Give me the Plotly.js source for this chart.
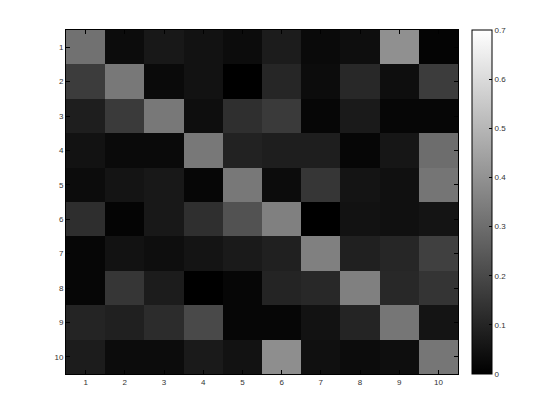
<!DOCTYPE html>
<html>
<head>
<meta charset="utf-8">
<script src="https://cdn.plot.ly/plotly-3.0.1.min.js"></script>
<style>
  body { margin: 0; background: #fff; }
  #chart { width: 560px; height: 420px; }
</style>
</head>
<body>
<div id="chart"></div>
<script>
// row / column labels
var rows = [1, 2, 3, 4, 5, 6, 7, 8, 9, 10];
var cols = [1, 2, 3, 4, 5, 6, 7, 8, 9, 10];

// cell values, one array per row
var row1 = [0.31, 0.033, 0.066, 0.05, 0.033, 0.077, 0.027, 0.038, 0.395, 0.011];
var row2 = [0.165, 0.33, 0.027, 0.05, 0.0, 0.104, 0.033, 0.11, 0.038, 0.165];
var row3 = [0.082, 0.16, 0.33, 0.038, 0.13, 0.16, 0.016, 0.07, 0.016, 0.016];
var row4 = [0.05, 0.027, 0.027, 0.33, 0.093, 0.082, 0.082, 0.016, 0.06, 0.30];
var row5 = [0.033, 0.055, 0.066, 0.016, 0.33, 0.033, 0.148, 0.055, 0.044, 0.32];
var row6 = [0.126, 0.011, 0.066, 0.13, 0.225, 0.35, 0.0, 0.05, 0.044, 0.055];
var row7 = [0.016, 0.05, 0.038, 0.055, 0.07, 0.088, 0.35, 0.088, 0.104, 0.176];
var row8 = [0.016, 0.148, 0.077, 0.0, 0.016, 0.1, 0.11, 0.35, 0.11, 0.143];
var row9 = [0.1, 0.088, 0.12, 0.2, 0.016, 0.016, 0.05, 0.1, 0.325, 0.055];
var row10 = [0.077, 0.033, 0.033, 0.07, 0.05, 0.39, 0.044, 0.033, 0.038, 0.325];

var zMin = 0;
var zMax = 0.7;
var cbTicks = [0, 0.1, 0.2, 0.3, 0.4, 0.5, 0.6, 0.7];

var z = [row1, row2, row3, row4, row5, row6, row7, row8, row9, row10];

var tickFont = { family: "Liberation Sans, Arial, sans-serif", size: 8, color: "#333" };

var trace = {
  type: "heatmap",
  x: cols,
  y: rows,
  z: z,
  zmin: zMin,
  zmax: zMax,
  colorscale: [[0, "rgb(0,0,0)"], [1, "rgb(255,255,255)"]],
  showscale: true,
  hoverinfo: "skip",
  colorbar: {
    x: 1.036,
    xanchor: "left",
    y: 0.5,
    yanchor: "middle",
    len: 1,
    lenmode: "fraction",
    thickness: 20,
    thicknessmode: "pixels",
    outlinewidth: 1,
    outlinecolor: "#000",
    tickvals: cbTicks,
    ticktext: cbTicks.map(String),
    ticks: "inside",
    ticklen: 3,
    tickcolor: "#000",
    tickfont: tickFont,
    xpad: 0,
    ypad: 0
  }
};

var layout = {
  width: 560,
  height: 420,
  paper_bgcolor: "#fff",
  plot_bgcolor: "#fff",
  margin: { l: 66, r: 102, t: 30, b: 46 },
  showlegend: false,
  xaxis: {
    range: [0.5, 10.5],
    tickvals: cols,
    ticktext: cols.map(String),
    ticks: "inside",
    ticklen: 4,
    tickcolor: "#000",
    tickfont: tickFont,
    showgrid: false,
    zeroline: false,
    showline: true,
    linecolor: "#000",
    linewidth: 1,
    mirror: "ticks"
  },
  yaxis: {
    range: [10.5, 0.5],
    tickvals: rows,
    ticktext: rows.map(String),
    ticks: "inside",
    ticklen: 4,
    tickcolor: "#000",
    tickfont: tickFont,
    showgrid: false,
    zeroline: false,
    showline: true,
    linecolor: "#000",
    linewidth: 1,
    mirror: "ticks"
  }
};

Plotly.newPlot("chart", [trace], layout, { displayModeBar: false, staticPlot: true });
</script>
</body>
</html>
